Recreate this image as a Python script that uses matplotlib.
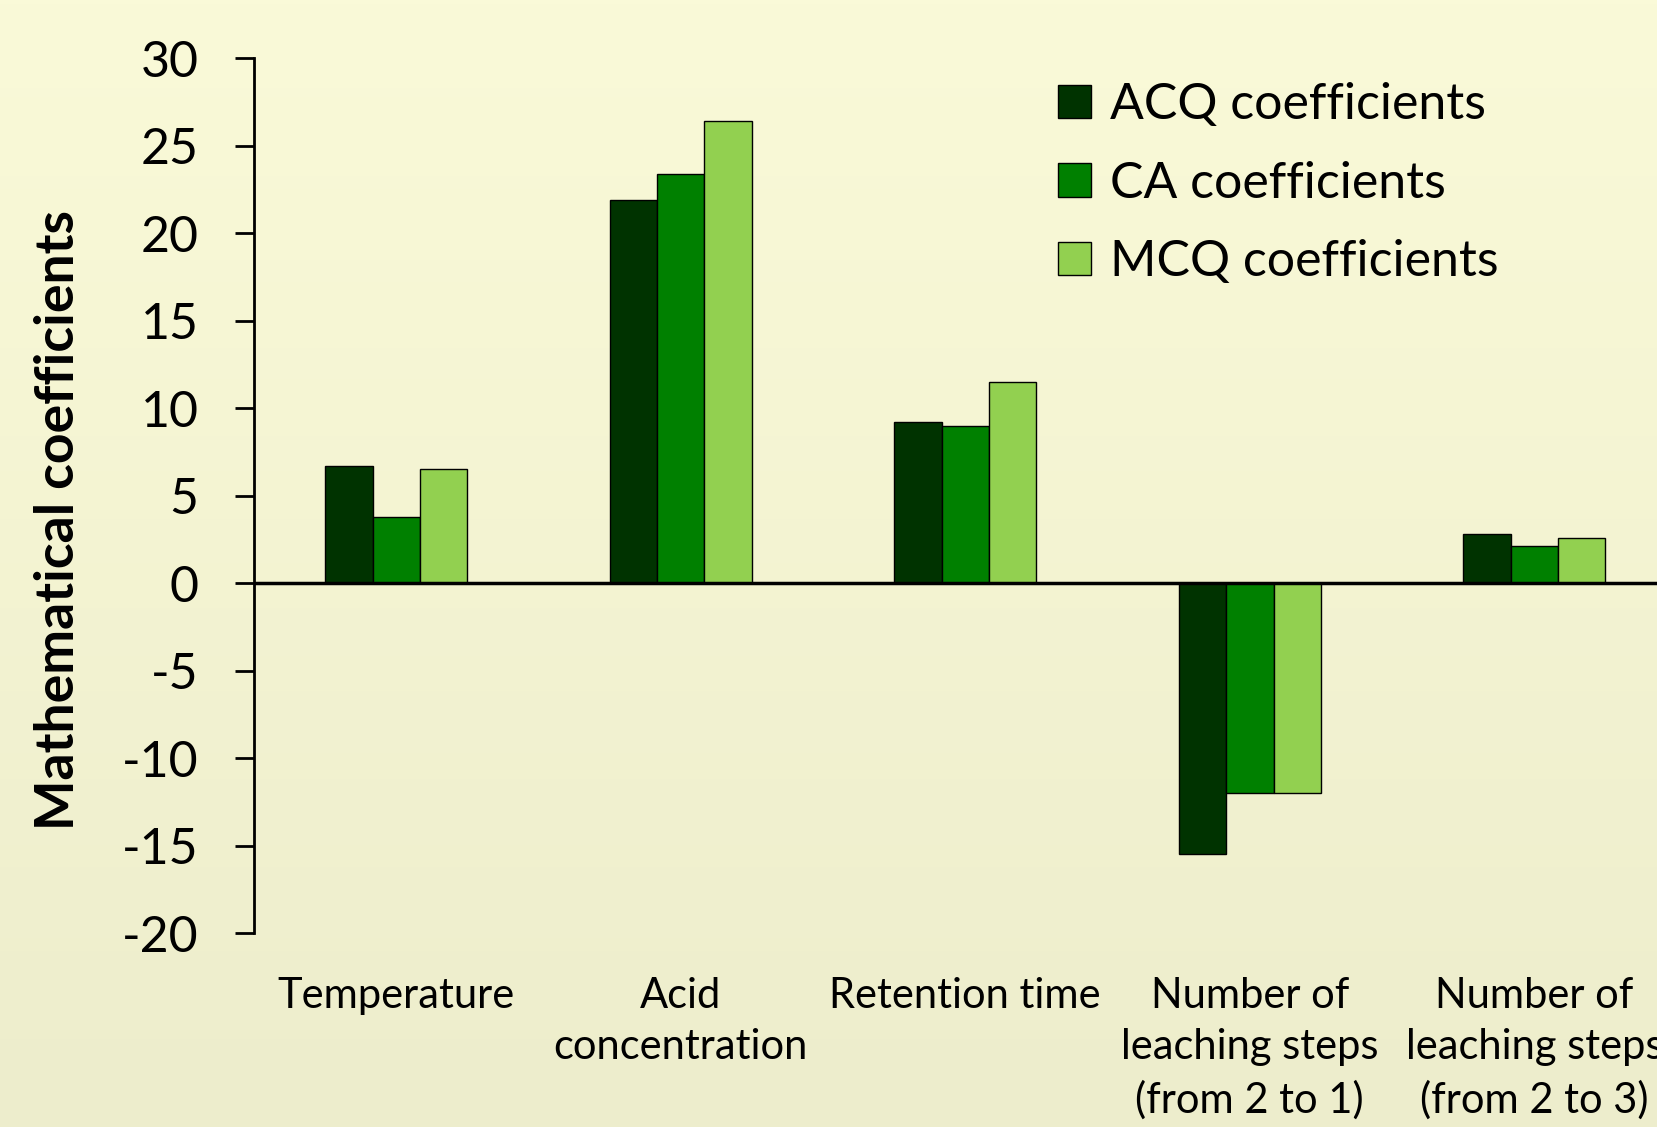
import numpy as np
import matplotlib
matplotlib.use("Agg")
import matplotlib.pyplot as plt
from matplotlib.transforms import blended_transform_factory

# data
categories = ["Temperature", "Acid\nconcentration", "Retention time",
              "Number of\nleaching steps\n(from 2 to 1)",
              "Number of\nleaching steps\n(from 2 to 3)"]
series_names = ["ACQ coefficients", "CA coefficients", "MCQ coefficients"]
acq = [6.7, 21.9, 9.2, -15.5, 2.8]
ca = [3.8, 23.4, 9.0, -12.0, 2.1]
mcq = [6.5, 26.4, 11.5, -12.0, 2.6]
colors = ["#003300", "#008000", "#92D050"]
yticks = list(range(-20, 31, 5))

plt.rcParams['font.family'] = ['Lato', 'DejaVu Sans']

fig = plt.figure(figsize=(16.58, 11.27), dpi=100)

# background gradient
bg = fig.add_axes([0, 0, 1, 1], zorder=-10)
top = np.array([250, 250, 216]) / 255
bot = np.array([237, 237, 204]) / 255
t = np.linspace(0, 1, 256)[:, None]
grad = (top[None, :] * (1 - t) + bot[None, :] * t)[:, None, :]
bg.imshow(grad, aspect='auto', extent=[0, 1, 0, 1])
bg.axis('off')

ax = fig.add_axes([0.1532, 0.1721, 0.858, 0.7764])
ax.set_facecolor('none')

x = np.arange(len(categories))
w = 1 / 6
for i, (vals, c, name) in enumerate(zip([acq, ca, mcq], colors, series_names)):
    ax.bar(x + (i - 1) * w, vals, w, color=c, edgecolor='black', linewidth=1,
           label=name, zorder=2)

ax.axhline(0, color='black', lw=2.5, zorder=3)
ax.set_xlim(-0.5, 4.5)
ax.set_ylim(-20, 30)
ax.set_yticks(yticks)
ax.set_yticklabels([str(v) for v in yticks])  # plain hyphen minus
ax.tick_params(axis='y', labelsize=36, length=14, width=2, pad=26, direction='out')
ax.set_xticks([])
for s in ['top', 'right', 'bottom']:
    ax.spines[s].set_visible(False)
ax.spines['left'].set_linewidth(2)

tr = blended_transform_factory(ax.transData, ax.transAxes)
for xi, lab in zip(x, categories):
    ax.text(xi, -0.05, lab, transform=tr, ha='center', va='top',
            fontsize=30, linespacing=1.43)

fig.text(0.035, 0.5386, "Mathematical coefficients", rotation=90,
         ha='center', va='center', fontsize=38.5, fontweight='bold')

ax.legend(loc='upper left', bbox_to_anchor=(1033 / 1658, 1 - 57 / 1127),
          bbox_transform=fig.transFigure, frameon=False, fontsize=36,
          handlelength=0.66, handleheight=0.66, handletextpad=0.38,
          labelspacing=0.65, borderpad=0)

fig.savefig("out.png", dpi=100)
